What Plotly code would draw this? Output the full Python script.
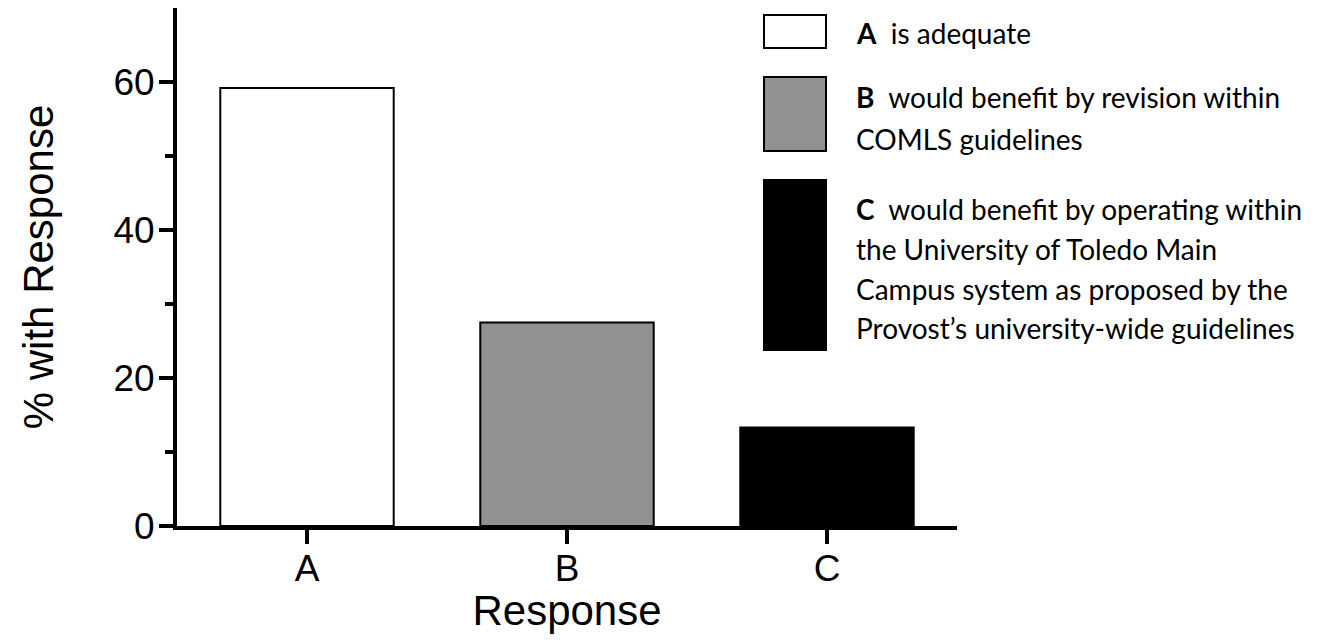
import plotly.graph_objects as go

categories = ["A", "B", "C"]
values = [59.2, 27.5, 13.3]
bar_colors = ["#ffffff", "#919191", "#000000"]
y_ticks = [0, 20, 40, 60]
y_minor_ticks = [10, 30, 50]

legend_keys = ["A", "B", "C"]
legend_lines = [
    ["is adequate"],
    ["would benefit by revision within", "COMLS guidelines"],
    ["would benefit by operating within", "the University of Toledo Main",
     "Campus system as proposed by the", "Provost\u2019s university-wide guidelines"],
]

# page has an 8px body margin; figure is sized so it fits the window exactly
OFF = 8
W, H = 1321 - OFF, 642 - 2 * OFF
L, R, T, B = 169, 364, 0, 108
pw, ph = W - L - R, H - T - B


def px(x_page):
    return (x_page - OFF - L) / pw


def py(y_page):
    return (H - B - (y_page - OFF)) / ph


fig = go.Figure()
fig.add_trace(go.Bar(
    x=categories, y=values, width=0.667,
    marker=dict(color=bar_colors, line=dict(color="black", width=2)),
    showlegend=False,
))

shapes = []
annotations = []
box_rows = [(15, 48), (77, 151), (180, 350)]
line_rows = [[33], [97, 139], [209, 249, 289, 328]]
lfont = "Lato, 'Open Sans', sans-serif"
for i, key in enumerate(legend_keys):
    y0, y1 = box_rows[i]
    shapes.append(dict(type="rect", xref="paper", yref="paper",
                       x0=px(764), x1=px(826), y0=py(y1), y1=py(y0),
                       fillcolor=bar_colors[i], line=dict(color="black", width=2)))
    for j, txt in enumerate(legend_lines[i]):
        t = f"<b>{key}</b>  {txt}" if j == 0 else txt
        annotations.append(dict(xref="paper", yref="paper", x=px(854), y=py(line_rows[i][j]),
                                xanchor="left", yanchor="middle", showarrow=False, text=t,
                                font=dict(family=lfont, size=28, color="black")))

fig.update_layout(
    width=W, height=H,
    margin=dict(l=L, r=R, t=T, b=B, pad=0),
    paper_bgcolor="white", plot_bgcolor="white",
    font=dict(family="Arial, 'Liberation Sans', sans-serif", color="black"),
    shapes=shapes, annotations=annotations,
    xaxis=dict(
        range=[-0.5, 2.5], showline=True, linecolor="black", linewidth=4,
        ticks="outside", ticklen=14, tickwidth=4, tickcolor="black",
        tickfont=dict(size=37), ticklabelstandoff=-7, showgrid=False, zeroline=False,
        title=dict(text="Response", font=dict(size=42), standoff=10),
    ),
    yaxis=dict(
        range=[0, 70], showline=True, linecolor="black", linewidth=4,
        tickvals=y_ticks, ticks="outside", ticklen=14, tickwidth=4, tickcolor="black",
        tickfont=dict(size=37), ticklabelstandoff=-3, showgrid=False, zeroline=False,
        minor=dict(tickvals=y_minor_ticks, ticks="outside", ticklen=8, tickwidth=4, tickcolor="black"),
        title=dict(text="% with Response", font=dict(size=42), standoff=48),
    ),
)

fig.write_html("out.html")
